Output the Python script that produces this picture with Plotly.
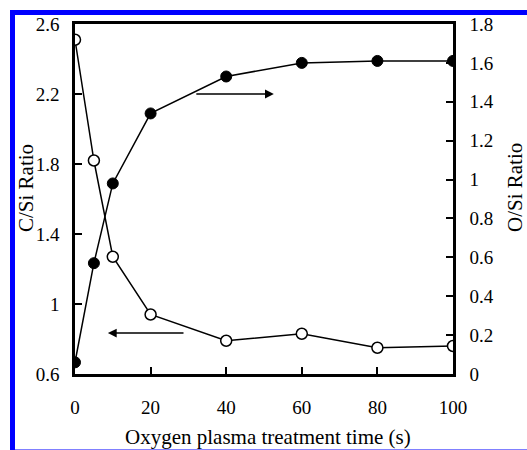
import plotly.graph_objects as go

time_s = [0, 5, 10, 20, 40, 60, 80, 100]
c_si = [2.51, 1.82, 1.27, 0.94, 0.79, 0.83, 0.75, 0.76]
o_si = [0.06, 0.57, 0.98, 1.34, 1.53, 1.60, 1.61, 1.61]

left_ticks = [0.6, 1.0, 1.4, 1.8, 2.2, 2.6]
left_labels = ["0.6", "1", "1.4", "1.8", "2.2", "2.6"]
right_ticks = [0, 0.2, 0.4, 0.6, 0.8, 1.0, 1.2, 1.4, 1.6, 1.8]
right_labels = ["0", "0.2", "0.4", "0.6", "0.8", "1", "1.2", "1.4", "1.6", "1.8"]
x_ticks = [0, 20, 40, 60, 80, 100]

# arrows: (x_head, y_head, x_tail, y_tail, axis)
arrows = [
    (52.6, 1.44, 31.7, 1.44, "y2"),
    (8.7, 0.834, 29.1, 0.834, "y"),
]

FONT = "Liberation Serif, Times New Roman, serif"
W, H = 527, 450
L, R, T, B = 75, 74, 24, 76
pw, ph = W - L - R, H - T - B


def px_x(p):
    return (p - L) / pw


def px_y(p):
    return (H - B - p) / ph


fig = go.Figure()
fig.add_trace(go.Scatter(
    x=time_s, y=c_si, mode="lines+markers", yaxis="y",
    line=dict(color="black", width=1.5),
    marker=dict(symbol="circle", size=11, color="white",
                line=dict(color="black", width=1.5)),
    showlegend=False))
fig.add_trace(go.Scatter(
    x=time_s, y=o_si, mode="lines+markers", yaxis="y2",
    line=dict(color="black", width=1.5),
    marker=dict(symbol="circle", size=11, color="black",
                line=dict(color="black", width=1)),
    showlegend=False))

for xh, yh, xt, yt, ax in arrows:
    fig.add_annotation(x=xh, y=yh, ax=xt, ay=yt, xref="x", yref=ax,
                       axref="x", ayref=ax, text="", showarrow=True,
                       arrowhead=2, arrowsize=1.1, arrowwidth=1.6,
                       arrowcolor="black")

title_font = dict(family=FONT, size=21, color="black")
fig.add_annotation(text="C/Si Ratio", x=px_x(26), y=px_y(188), xref="paper",
                   yref="paper", showarrow=False, textangle=-90,
                   xanchor="center", yanchor="middle", font=title_font)
fig.add_annotation(text="O/Si Ratio", x=px_x(515), y=px_y(188), xref="paper",
                   yref="paper", showarrow=False, textangle=-90,
                   xanchor="center", yanchor="middle", font=title_font)
fig.add_annotation(text="Oxygen plasma treatment time (s)", x=px_x(268),
                   y=px_y(437), xref="paper", yref="paper", showarrow=False,
                   xanchor="center", yanchor="middle", font=title_font)

# blue frame
blue = "#0000ff"
fig.add_shape(type="rect", xref="paper", yref="paper", x0=px_x(10),
              x1=px_x(15), y0=px_y(450), y1=px_y(10), fillcolor=blue,
              line=dict(width=0), layer="above")
fig.add_shape(type="rect", xref="paper", yref="paper", x0=px_x(10),
              x1=px_x(527), y0=px_y(15), y1=px_y(10), fillcolor=blue,
              line=dict(width=0), layer="above")
fig.add_shape(type="line", xref="paper", yref="paper", x0=px_x(15),
              x1=px_x(527), y0=px_y(449.5), y1=px_y(449.5),
              line=dict(color="#8080ff", width=1), layer="above")

axis_common = dict(showgrid=False, zeroline=False, ticks="inside",
                   ticklen=7, tickwidth=1.5, tickcolor="black",
                   showline=True, linecolor="black", linewidth=2.5,
                   tickfont=dict(family=FONT, size=19, color="black"))

fig.update_layout(
    width=W, height=H, margin=dict(l=L, r=R, t=T, b=B),
    paper_bgcolor="white", plot_bgcolor="white",
    xaxis=dict(range=[0, 100], tickvals=x_ticks, mirror=True,
               ticklabelstandoff=14, **axis_common),
    yaxis=dict(range=[0.6, 2.6], tickvals=left_ticks, ticktext=left_labels,
               ticklabelstandoff=9, **axis_common),
    yaxis2=dict(range=[0, 1.8], tickvals=right_ticks, ticktext=right_labels,
                overlaying="y", side="right", ticklabelstandoff=10,
                **axis_common),
)

fig.write_html("out.html")
